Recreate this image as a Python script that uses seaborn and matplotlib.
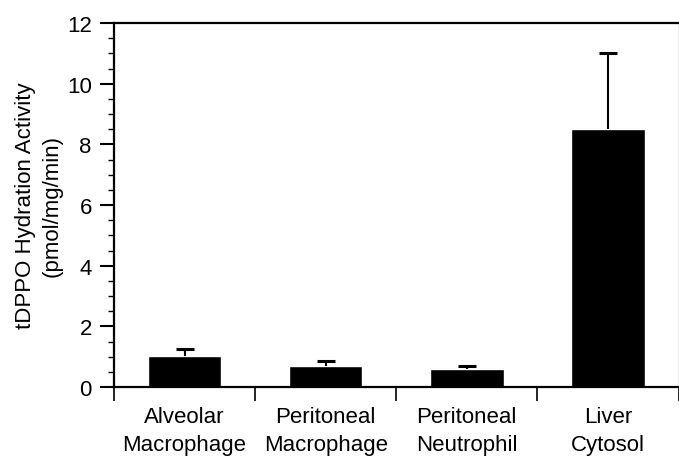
import numpy as np
import pandas as pd
import matplotlib
matplotlib.use("Agg")
import matplotlib.pyplot as plt
from matplotlib.ticker import MultipleLocator
import seaborn as sns

# Data
cells = ["Alveolar\nMacrophage", "Peritoneal\nMacrophage", "Peritoneal\nNeutrophil", "Liver\nCytosol"]
activity = [1.03, 0.70, 0.58, 8.52]
sem = [0.21, 0.15, 0.11, 2.49]

df = pd.DataFrame({"cell": cells, "activity": activity, "sem": sem})

sns.set_style("ticks")
plt.rcParams["font.family"] = ["Liberation Sans", "DejaVu Sans"]
fs = 16

fig = plt.figure(figsize=(6.79, 4.60), dpi=100)
ax = fig.add_axes([114 / 679, 1 - 388 / 460, 564.5 / 679, 364 / 460])

sns.barplot(data=df, x="cell", y="activity", order=cells, color="black",
            width=0.52, errorbar=None, saturation=1, ax=ax)
eb = ax.errorbar(np.arange(len(cells)), df["activity"], yerr=[np.zeros(len(cells)), df["sem"]],
                 fmt="none", ecolor="black", elinewidth=1.5, capsize=6.5, capthick=2.2, zorder=3)
# only the upper half of each error bar is shown
eb[1][0].set_visible(False)

ax.set_xlim(-0.5, 3.5)
ax.set_ylim(0, 12)
ax.yaxis.set_major_locator(MultipleLocator(2))
ax.yaxis.set_minor_locator(MultipleLocator(0.5))
ax.set_xticks(np.arange(len(cells)))
ax.set_xticklabels(cells, linespacing=1.4)
ax.set_xticks(np.arange(-0.5, 3.6, 1), minor=True)

ax.tick_params(axis="x", which="major", length=0, pad=14, labelsize=fs, colors="black")
ax.tick_params(axis="x", which="minor", length=10, width=1.2, direction="out", color="black")
ax.tick_params(axis="y", which="major", length=10, width=1.5, direction="out", pad=6,
               labelsize=fs, colors="black")
ax.tick_params(axis="y", which="minor", length=4.5, width=1.0, direction="out", color="black")

for side in ["left", "top", "bottom"]:
    ax.spines[side].set_linewidth(1.6)
    ax.spines[side].set_color("black")
ax.spines["right"].set_linewidth(0.8)
ax.spines["right"].set_color("black")

ax.set_xlabel("")
ax.set_ylabel("tDPPO Hydration Activity\n(pmol/mg/min)", fontsize=fs, labelpad=3,
              linespacing=1.35, color="black")

fig.savefig("out.png", dpi=100)
